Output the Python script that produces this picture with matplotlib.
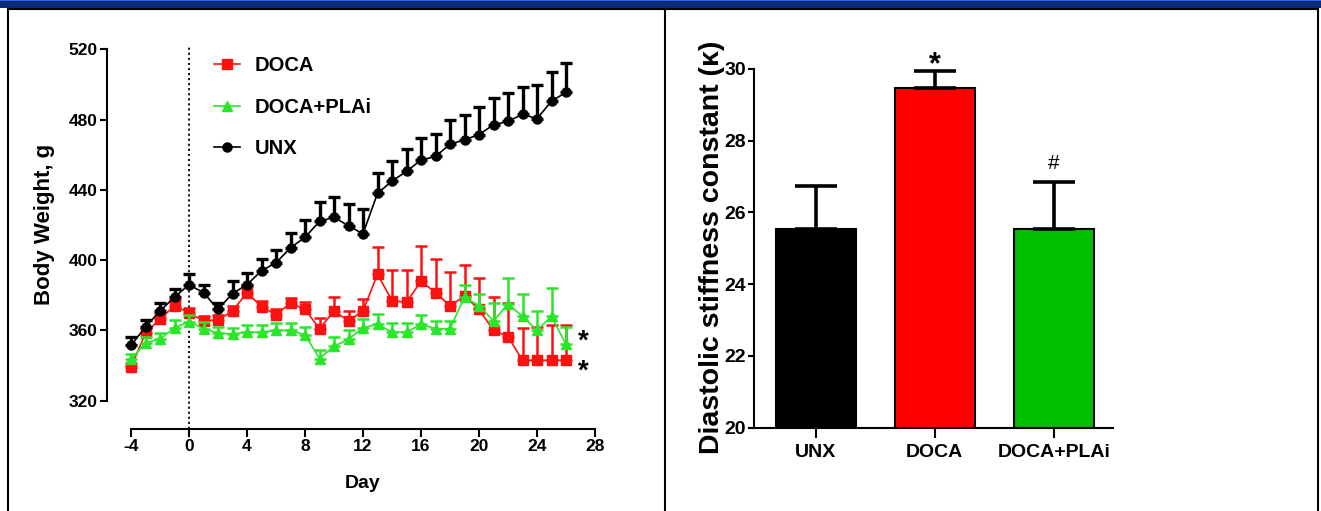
import matplotlib
matplotlib.use("Agg")
import matplotlib.pyplot as plt
from matplotlib.patches import Rectangle
from matplotlib.lines import Line2D
import numpy as np

# ---------------- data ----------------
days = list(range(-4, 27))

unx_mean = [351.5, 362, 371, 379, 386, 381.5, 372, 381, 386, 394, 398.5, 407, 413,
            422, 424.5, 419.5, 415, 438, 445, 450.5, 457, 459, 466, 468.5, 471.5,
            477, 479, 483, 480.5, 490.5, 495.5]
unx_sem = [4.5, 4, 4.5, 4.5, 6, 4.5, 3.5, 7, 6.5, 6.5, 7, 8.5, 10, 11, 11.5, 12.5,
           14, 11.5, 11.5, 13, 12.5, 13, 13.5, 14, 15.5, 15.5, 16, 15.5, 19, 16.5, 16.5]

doca_mean = [339, 358.5, 366.5, 374, 370, 365.5, 366, 371, 381.5, 373.5, 369, 375.5,
             372, 361, 371, 365.5, 371, 392, 377, 376, 388, 381.5, 374, 379.5, 372,
             360, 356.5, 343, 343, 343, 343]
doca_sem = [2, 3, 3.5, 3.5, 3, 2.5, 3, 3, 3.5, 3, 3, 3, 4, 6, 8, 5.5, 7, 15.5, 17.5,
            18.5, 20, 19, 19.5, 18, 18, 19, 19, 18.5, 19, 20, 20]

plai_mean = [343.5, 353, 355, 361.5, 365, 361, 358.5, 358, 359, 359, 360, 360, 357.5,
             344, 351, 355, 361.5, 363.5, 359, 359, 363.5, 361, 361, 379, 374, 365.5,
             375, 368, 360, 368, 352]
plai_sem = [3, 3.5, 3.5, 4.5, 4, 4, 3.5, 3.5, 4, 4, 4.5, 4.5, 4.5, 5, 5.5, 5, 5, 6, 5,
            5, 5.5, 4.5, 4.5, 7, 7, 10, 15, 13, 11, 16, 10]

line_labels = ["DOCA", "DOCA+PLAi", "UNX"]
x_ticks = [-4, 0, 4, 8, 12, 16, 20, 24, 28]
y_ticks_left = [320, 360, 400, 440, 480, 520]

bar_groups = ["UNX", "DOCA", "DOCA+PLAi"]
bar_mean = [25.55, 29.48, 25.54]
bar_sem = [1.18, 0.46, 1.32]
y_ticks_right = [20, 22, 24, 26, 28, 30]

# ---------------- fonts ----------------
RF = "Liberation Sans"
HF = RF

W, H = 1321, 511
fig = plt.figure(figsize=(W / 100, H / 100), dpi=100)
fig.patch.set_facecolor("white")

def fx(px):
    return px / W

def fy(py):
    return 1 - py / H

# ---------------- frame ----------------
fig.add_artist(Rectangle((0, fy(8)), 1, 8 / H, transform=fig.transFigure,
                         facecolor="#0b2a78", edgecolor="none", zorder=0))
fig.add_artist(Rectangle((0, fy(1.5)), 1, 1.5 / H, transform=fig.transFigure,
                         facecolor="#2a6ae0", edgecolor="none", zorder=0))
lw_frame = 1.5
fig.add_artist(Line2D([fx(8), fx(1318)], [fy(9.5), fy(9.5)], transform=fig.transFigure,
                      color="black", lw=lw_frame))
for xp in (8, 665, 1318):
    fig.add_artist(Line2D([fx(xp), fx(xp)], [fy(9.5), 0], transform=fig.transFigure,
                          color="black", lw=lw_frame))

# ---------------- left chart ----------------
px_per_day = 14.5
px_per_g = 1.757
x0_px, y320_px = 131, 400.7
ax1_left, ax1_right, ax1_top, ax1_bot = 107, 610, 45, 429
ax1 = fig.add_axes([fx(ax1_left), fy(ax1_bot), (ax1_right - ax1_left) / W,
                    (ax1_bot - ax1_top) / H])
ax1.set_xlim(-4 + (ax1_left - x0_px) / px_per_day, -4 + (ax1_right - x0_px) / px_per_day)
ax1.set_ylim(320 - (ax1_bot - y320_px) / px_per_g, 320 + (y320_px - ax1_top) / px_per_g)

ax1.axvline(0, color="black", lw=1.3, ls=(0, (1.2, 1.6)), zorder=1)

red = "#ff1010"
green = "#2ae62a"
series = [
    (doca_mean, doca_sem, red, "s", 7, 1.8, 2),
    (plai_mean, plai_sem, green, "^", 7, 1.8, 3),
    (unx_mean, unx_sem, "black", "o", 6.5, 2.4, 4),
]
handles = []
for (m, s, c, mk, ms, elw, z), lab in zip(series, line_labels):
    m = np.array(m)
    s = np.array(s)
    ax1.errorbar(days, m, yerr=[np.zeros_like(s), s], fmt="none", ecolor=c,
                 elinewidth=elw, capsize=4.5, capthick=elw, zorder=z)
    h, = ax1.plot(days, m, color=c, lw=1.2, marker=mk, ms=ms, mec=c, mfc=c,
                  label=lab, zorder=z + 0.5)
    handles.append(h)

for sp in ("top", "right"):
    ax1.spines[sp].set_visible(False)
for sp in ("left", "bottom"):
    ax1.spines[sp].set_linewidth(1.5)
ax1.spines["left"].set_bounds(320, 520)
ax1.spines["bottom"].set_bounds(-4, 28)
ax1.set_xticks(x_ticks)
ax1.set_yticks(y_ticks_left)
ax1.set_xticklabels([str(v) for v in x_ticks])
ax1.set_yticklabels([str(v) for v in y_ticks_left])
ax1.tick_params(axis="both", direction="out", width=1.5, pad=2)
ax1.tick_params(axis="x", length=5.5)
ax1.tick_params(axis="y", length=5)
for lab in ax1.get_xticklabels() + ax1.get_yticklabels():
    lab.set_fontfamily(HF)
    lab.set_fontweight("bold")
    lab.set_fontsize(12.5)

leg = ax1.legend(handles=handles, loc="upper left",
                 bbox_to_anchor=(fx(214), fy(56)), bbox_transform=fig.transFigure,
                 frameon=False, borderpad=0, borderaxespad=0, handlelength=1.3,
                 handletextpad=0.7, labelspacing=1.12,
                 prop=dict(family=HF, weight="bold", size=14.5))

# stars at the line ends
ax1.text(27.17, 349.5, "*", fontsize=20, fontweight="bold", family=RF,
         ha="center", va="baseline")
ax1.text(27.17, 332.5, "*", fontsize=20, fontweight="bold", family=RF,
         ha="center", va="baseline")

fig.text(fx(363), fy(483), "Day", family=HF, fontweight="bold", fontsize=14,
         ha="center", va="center")
fig.text(fx(45), fy(224), "Body Weight, g", family=RF, fontweight="bold",
         fontsize=16, rotation=90, ha="center", va="center")

# ---------------- right chart ----------------
ax2_left, ax2_right, ax2_top, ax2_bot = 754, 1113, 40, 427.7
px_per_unit = 35.87
ax2 = fig.add_axes([fx(ax2_left), fy(ax2_bot), (ax2_right - ax2_left) / W,
                    (ax2_bot - ax2_top) / H])
xpos = np.arange(len(bar_groups))
bar_colors = ["black", "#ff0000", "#00c000"]
ax2.bar(xpos, np.array(bar_mean) - 20, bottom=20, width=0.67, color=bar_colors,
        edgecolor="black", linewidth=1.5, zorder=2)
ax2.errorbar(xpos, bar_mean, yerr=[np.zeros(3), bar_sem], fmt="none", ecolor="black",
             elinewidth=2.6, capsize=15, capthick=2.6, zorder=3)
ax2.set_xlim(-0.518, 2.497)
ax2.set_ylim(20, 20 + (ax2_bot - ax2_top) / px_per_unit)
for sp in ("top", "right"):
    ax2.spines[sp].set_visible(False)
for sp in ("left", "bottom"):
    ax2.spines[sp].set_linewidth(1.5)
ax2.spines["left"].set_bounds(20, 30)
ax2.set_xticks(xpos)
ax2.set_xticklabels(bar_groups)
ax2.set_yticks(y_ticks_right)
ax2.set_yticklabels([str(v) for v in y_ticks_right])
ax2.tick_params(axis="both", direction="out", width=1.5)
ax2.tick_params(axis="x", length=7, pad=5)
ax2.tick_params(axis="y", length=4, pad=2)
for lab in ax2.get_xticklabels() + ax2.get_yticklabels():
    lab.set_fontfamily(HF)
    lab.set_fontweight("bold")
    lab.set_fontsize(14)

ax2.text(1, 29.88, "*", fontsize=22, fontweight="bold", family=RF,
         ha="center", va="baseline")
ax2.text(2, 27.2, "#", fontsize=15, family=RF, ha="center", va="baseline")

fig.text(fx(712), fy(247.5), "Diastolic stiffness constant (\u03ba)", family=RF,
         fontweight="bold", fontsize=20.5, rotation=90, ha="center", va="center")

fig.savefig("out.png", dpi=100, facecolor="white")
